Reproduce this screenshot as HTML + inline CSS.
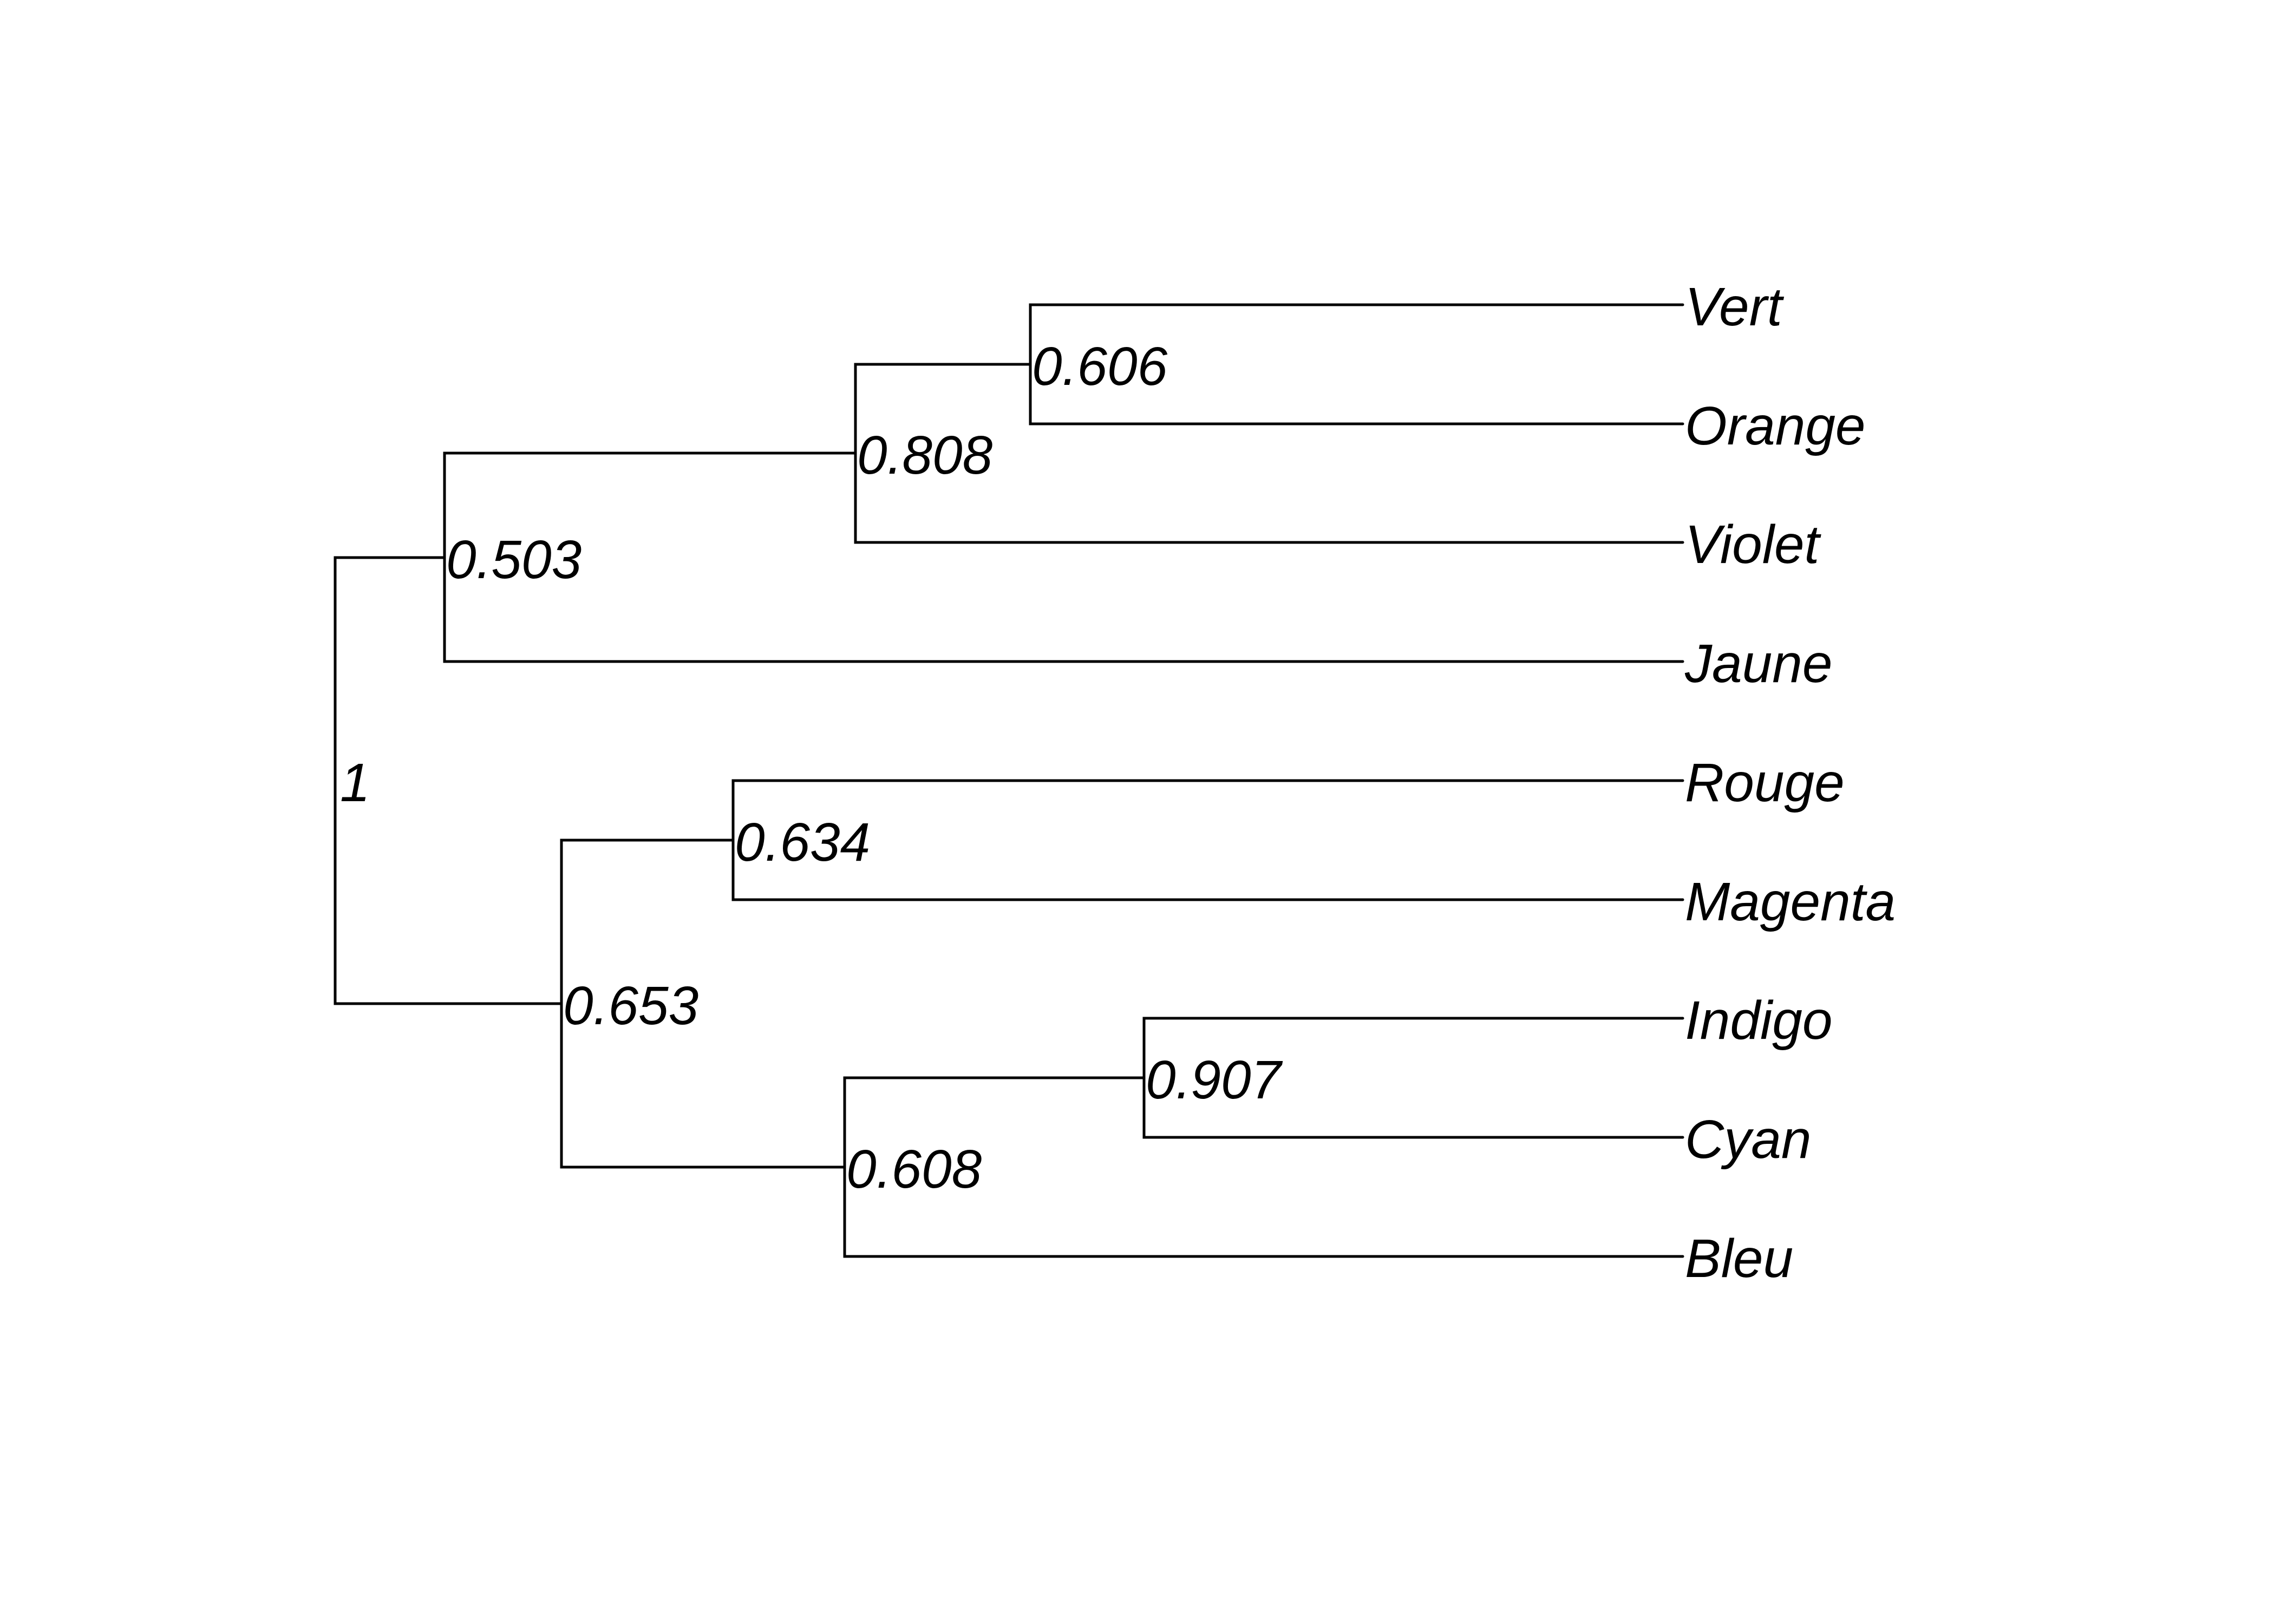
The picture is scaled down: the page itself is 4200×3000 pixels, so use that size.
<!DOCTYPE html>
<html><head><meta charset="utf-8"><style>html,body{margin:0;padding:0;background:#fff}svg{display:block}</style></head>
<body>
<svg width="4200" height="3000" viewBox="0 0 4200 3000" xmlns="http://www.w3.org/2000/svg">
<rect width="4200" height="3000" fill="#fff"/>
<g fill="none" stroke="#000" stroke-width="5" stroke-linecap="round" stroke-linejoin="miter">
<path d="M3108 563 H1903 V783 H3108"/>
<path d="M1903 673 H1580 V1002 H3108"/>
<path d="M1580 837 H821 V1222 H3108"/>
<path d="M821 1030 H619 V1854 H1037"/>
<path d="M3108 1442 H1354 V1662 H3108"/>
<path d="M1354 1552 H1037 V2156 H1560"/>
<path d="M3108 1881 H2113 V2101 H3108"/>
<path d="M2113 1991 H1560 V2321 H3108"/>
</g>
<g font-family="'Liberation Sans', sans-serif" font-style="italic" font-size="100" fill="#000">
<text x="1906" y="711">0.606</text>
<text x="1583" y="875">0.808</text>
<text x="824" y="1068">0.503</text>
<text x="628" y="1480">1</text>
<text x="1357" y="1590">0.634</text>
<text x="1040" y="1892">0.653</text>
<text x="2116" y="2029">0.907</text>
<text x="1563" y="2194">0.608</text>
<text x="3112" y="601">Vert</text>
<text x="3112" y="821">Orange</text>
<text x="3112" y="1040">Violet</text>
<text x="3112" y="1260">Jaune</text>
<text x="3112" y="1480">Rouge</text>
<text x="3112" y="1700">Magenta</text>
<text x="3112" y="1919">Indigo</text>
<text x="3112" y="2139">Cyan</text>
<text x="3112" y="2359">Bleu</text>
</g>
</svg>
</body></html>
